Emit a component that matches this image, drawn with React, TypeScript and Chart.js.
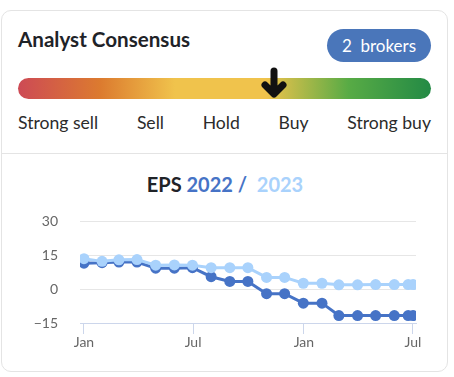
import React, { useEffect, useRef } from "react";
import { Chart, registerables } from "chart.js";

Chart.register(...registerables);

// ---- data ----
const ratingLabels = ["Strong sell", "Sell", "Hold", "Buy", "Strong buy"];
const brokerCount = 2;
const consensusPosition = 0.62; // 0 = strong sell, 1 = strong buy

// days since 1 Jan 2022
const pointDays = [0, 30, 58, 88, 119, 150, 180, 211, 242, 272, 303, 333, 364, 395, 423, 454, 484, 515, 538, 546];
const eps2022 = [11.5, 11.7, 12.0, 12.0, 9.3, 9.3, 9.5, 5.5, 3.4, 3.4, -2.0, -2.0, -6.2, -6.2, -11.7, -11.7, -11.7, -11.7, -11.7, -11.7];
const eps2023 = [13.5, 12.3, 13.0, 13.1, 10.6, 10.7, 10.6, 9.5, 9.5, 9.5, 5.2, 5.2, 2.6, 2.6, 1.9, 1.9, 2.0, 2.0, 2.0, 2.0];

const xTickDays = [0, 181, 365, 546];
const xTickLabels = ["Jan", "Jul", "Jan", "Jul"];
const yTicks = [-15, 0, 15, 30];

const DARK = "#4673c6";
const LIGHT = "#a9d2fc";
const FONT = "Lato, 'Noto Sans', sans-serif";

export default function App() {
  const canvasRef = useRef<HTMLCanvasElement | null>(null);

  useEffect(() => {
    if (!canvasRef.current) return;
    const chart = new Chart(canvasRef.current, {
      type: "line",
      data: {
        datasets: [
          {
            label: "2022",
            data: pointDays.map((d, i) => ({ x: d, y: eps2022[i] })),
            borderColor: DARK,
            backgroundColor: DARK,
            pointBackgroundColor: DARK,
            pointBorderWidth: 0,
            pointRadius: 5.5,
            borderWidth: 3,
            tension: 0,
            order: 2,
          },
          {
            label: "2023",
            data: pointDays.map((d, i) => ({ x: d, y: eps2023[i] })),
            borderColor: LIGHT,
            backgroundColor: LIGHT,
            pointBackgroundColor: LIGHT,
            pointBorderWidth: 0,
            pointRadius: 5.5,
            borderWidth: 3,
            tension: 0,
            order: 1,
          },
        ],
      },
      options: {
        animation: false,
        responsive: false,
        maintainAspectRatio: false,
        layout: { padding: { left: 0, right: 38, top: 0, bottom: 7 } },
        plugins: { legend: { display: false }, tooltip: { enabled: false }, title: { display: false } },
        scales: {
          x: {
            type: "linear",
            min: -6.6,
            max: 551,
            afterBuildTicks: (scale: any) => {
              scale.ticks = xTickDays.map((v) => ({ value: v }));
            },
            afterFit: (scale: any) => {
              scale.height = 30;
            },
            ticks: {
              autoSkip: false,
              maxRotation: 0,
              padding: 0,
              color: "#666666",
              font: { family: FONT, size: 14 },
              callback: (v: any) => {
                const idx = xTickDays.indexOf(Number(v));
                return idx >= 0 ? xTickLabels[idx] : "";
              },
            },
            grid: { drawOnChartArea: false, drawTicks: true, tickLength: 11, color: "#ccd6eb", lineWidth: 1 },
            border: { display: true, color: "#ccd6eb", width: 1 },
          },
          y: {
            min: -15,
            max: 30,
            afterBuildTicks: (scale: any) => {
              scale.ticks = yTicks.map((v) => ({ value: v }));
            },
            afterFit: (scale: any) => {
              scale.width = 80;
            },
            ticks: {
              padding: 22,
              color: "#666666",
              font: { family: FONT, size: 14 },
              callback: (v: any) => (Number(v) < 0 ? "\u2212" + Math.abs(Number(v)) : String(v)),
            },
            grid: { drawTicks: false, color: "#e6e6e6", lineWidth: 1 },
            border: { display: false },
          },
        },
      },
    });
    return () => chart.destroy();
  }, []);

  const barLeft = 18;
  const barWidth = 413;
  const arrowX = barLeft + barWidth * consensusPosition;

  return (
    <div style={{ position: "absolute", left: 0, top: 0, width: 454, height: 377, background: "#fff", fontFamily: FONT, overflow: "hidden" }}>
      <div style={{ position: "absolute", left: 1, top: 10, width: 445, height: 360, border: "1px solid #e4e4e4", borderRadius: 10 }} />
      <div style={{ position: "absolute", left: 18, top: 29, fontSize: 20.6, lineHeight: "20px", fontWeight: 700, color: "#1f2328", whiteSpace: "nowrap" }}>
        Analyst Consensus
      </div>
      <div style={{ position: "absolute", left: 327, top: 29, width: 104, height: 33, borderRadius: 17, background: "#4a76ba", color: "#fff", fontSize: 17, display: "flex", alignItems: "center", justifyContent: "center", whiteSpace: "pre" }}>
        {brokerCount + "  brokers"}
      </div>
      <div style={{ position: "absolute", left: barLeft, top: 78, width: barWidth, height: 21, borderRadius: 10.5, background: "linear-gradient(to right, #cd4a55 0%, #dc7b2f 20%, #f0c34c 38%, #f0c34c 60%, #58ab45 80%, #238a45 100%)" }} />
      <svg style={{ position: "absolute", left: arrowX - 13, top: 67 }} width={26} height={31} viewBox="0 0 26 31">
        <path d="M13 4 L13 25 M4 18 L13 27 L22 18" stroke="#111" strokeWidth={7} strokeLinecap="round" strokeLinejoin="round" fill="none" />
      </svg>
      <div style={{ position: "absolute", left: barLeft, top: 112, width: barWidth, display: "flex", justifyContent: "space-between", fontSize: 17.6, lineHeight: "22px", color: "#2b2b2b" }}>
        {ratingLabels.map((l) => (
          <span key={l}>{l}</span>
        ))}
      </div>
      <div style={{ position: "absolute", left: 2, top: 153, width: 445, height: 1, background: "#e4e4e4" }} />
      <div style={{ position: "absolute", left: -2, top: 172, width: 454, textAlign: "center", fontSize: 20, lineHeight: "24px", fontWeight: 700, whiteSpace: "pre" }}>
        <span style={{ color: "#1f2328" }}>EPS </span>
        <span style={{ color: DARK }}>2022 / </span>
        <span style={{ color: LIGHT }}> 2023</span>
      </div>
      <canvas ref={canvasRef} width={454} height={169} style={{ position: "absolute", left: 0, top: 191, width: 454, height: 169 }} />
    </div>
  );
}
